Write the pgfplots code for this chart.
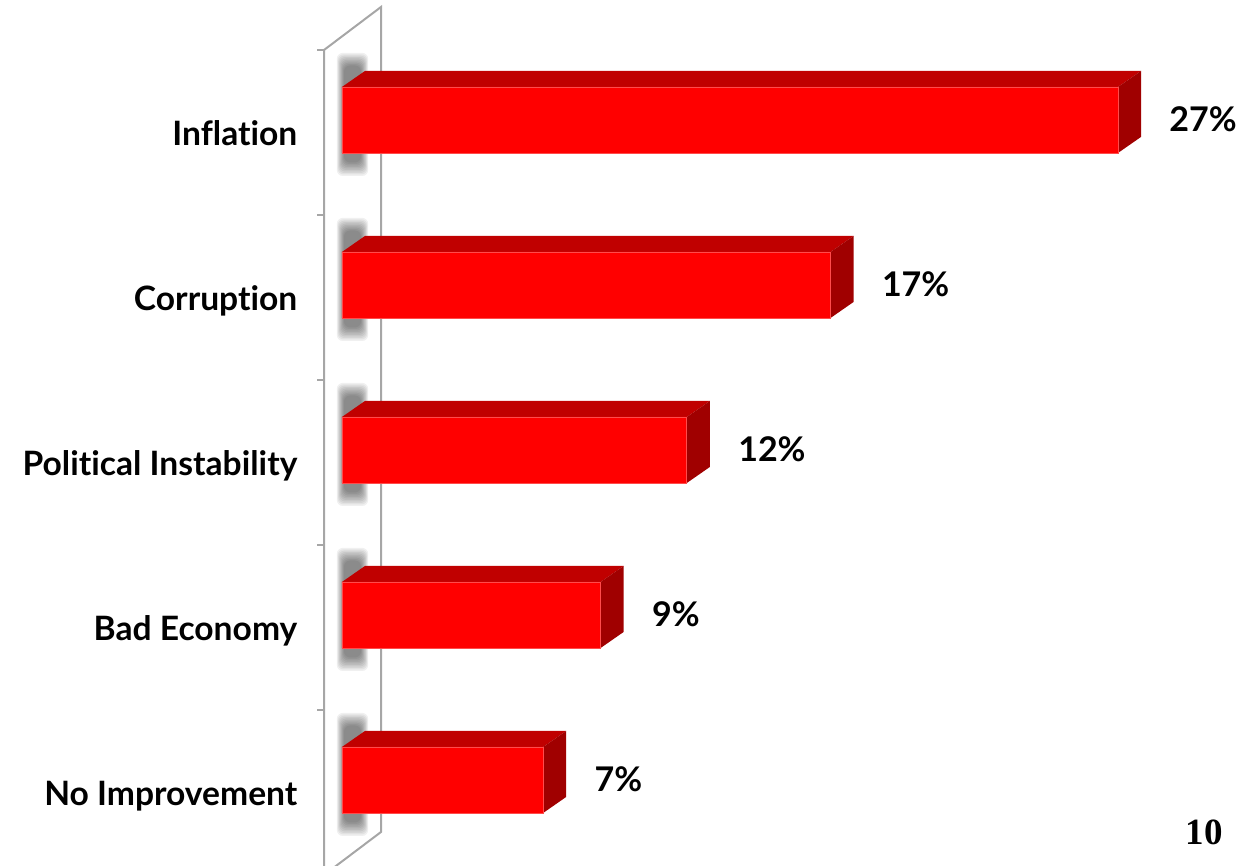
\documentclass[border=0pt]{standalone}
\usepackage{pgfplots}
\usepackage{pgfplotstable}
\pgfplotsset{compat=1.18}
\usepackage{fontspec}
\setmainfont{Lato}[Ligatures={NoCommon}]
\newfontfamily\pagefont{Liberation Serif}
\definecolor{frontred}{HTML}{FF0000}
\definecolor{topred}{HTML}{C00000}
\definecolor{sidered}{HTML}{A00000}
\definecolor{wallgray}{HTML}{A6A6A6}

\pgfplotstableread{
idx value
4 27
3 17
2 12
1 9
0 7
}\data

\begin{document}
\begin{tikzpicture}
\begin{scope}[x=0.5pt,y=0.5pt]
\path[use as bounding box] (0,0) rectangle (1244,866);
% wall
\draw[wallgray, line width=1pt] (324,-20) -- (324,816) -- (381,859) -- (381,34) -- (324,-9);
\foreach \Y in {816,651,486,321,156} {\draw[wallgray, line width=1pt] (317,\Y) -- (324,\Y);}
% shadows on wall
\foreach \c in {132.5,297.5,462.5,627.5,792.5} {
  \foreach \k in {0,...,9} {
    \fill[black,opacity=0.06,rounded corners=3pt] (344-\k*0.8, 866-\c-30-\k*1.5) rectangle (361+\k*0.8, 866-\c+67+\k*1.4);
  }
}
% page number
\node[anchor=base, inner sep=0pt, font=\pagefont\bfseries\fontsize{18.5}{18.5}\selectfont] at (1204,21) {10};
\end{scope}
\begin{axis}[
  at={(171pt,0pt)}, anchor=south west,
  scale only axis, width=416.75pt, height=408pt,
  xmin=0, xmax=29, ymin=-0.44545, ymax=4.5,
  enlargelimits=false, clip=false,
  axis x line=none, axis y line=left,
  y axis line style={draw=none}, ytick style={draw=none},
  ytick={0,1,2,3,4},
  yticklabels={No Improvement, Bad Economy, Political Instability, Corruption, Inflation},
  yticklabel style={anchor=base east, inner sep=0pt, xshift=-20pt, yshift=-6.75pt,
    font=\bfseries\fontsize{16.8}{16.8}\selectfont},
  /pgf/number format/assume math mode=true,
]
\pgfplotsinvokeforeach{0,...,4}{%
  \pgfplotstablegetelem{#1}{value}\of\data
  \pgfmathsetmacro\vA{\pgfplotsretval}%
  \pgfmathsetmacro\vB{\pgfplotsretval+0.8}%
  \pgfplotstablegetelem{#1}{idx}\of\data
  \pgfmathsetmacro\yT{\pgfplotsretval+0.276}%
  \pgfmathsetmacro\yTT{\pgfplotsretval+0.373}%
  \pgfmathsetmacro\yB{\pgfplotsretval-0.124}%
  \pgfmathsetmacro\yBB{\pgfplotsretval-0.027}%
  \edef\temp{%
    \noexpand\addplot[fill=topred, draw=none, forget plot] coordinates {(0,\yT) (\vA,\yT) (\vB,\yTT) (0.8,\yTT)};
    \noexpand\addplot[fill=sidered, draw=none, forget plot] coordinates {(\vA,\yT) (\vB,\yTT) (\vB,\yBB) (\vA,\yB)};
  }\temp
}
\addplot[xbar, bar width=0.4, bar shift=0.0758, fill=frontred, draw=red!70!white, line width=0.4pt,
  nodes near coords={\pgfmathprintnumber{\pgfplotspointmeta}\%},
  nodes near coords style={anchor=west, inner sep=0pt, xshift=25.5pt, yshift=6.75pt, text=black,
    font=\bfseries\fontsize{17}{17}\selectfont}]
  table[x=value, y=idx]{\data};
\end{axis}
\end{tikzpicture}
\end{document}
